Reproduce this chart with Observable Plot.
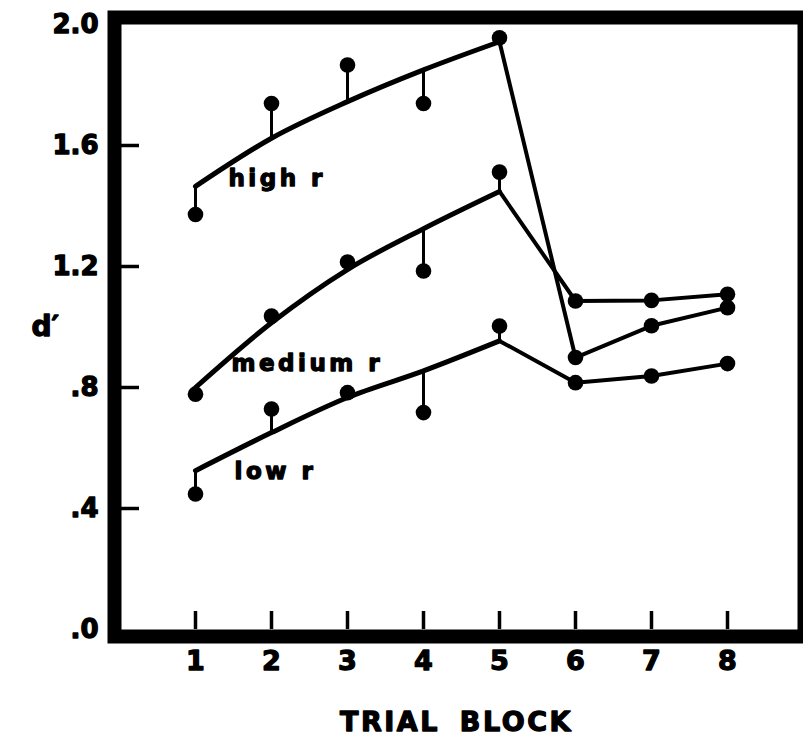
<!DOCTYPE html>
<html>
<head>
<meta charset="utf-8">
<script src="https://cdn.jsdelivr.net/npm/d3@7"></script>
<script src="https://cdn.jsdelivr.net/npm/@observablehq/plot@0.6"></script>
<style>
  html, body { margin: 0; padding: 0; background: #fff; }
</style>
</head>
<body>
<div id="chart"></div>
<script>
// ---- data ----
const blocks = [1, 2, 3, 4, 5, 6, 7, 8];
const fitBlocks = [1, 2, 3, 4, 5];
const seriesNames = ["high r", "medium r", "low r"];

// observed d' per trial block
const highObs   = [1.372, 1.739, 1.866, 1.739, 1.956, 0.899, 1.004, 1.064];
const mediumObs = [0.778, 1.036, 1.215, 1.185, 1.512, 1.086, 1.088, 1.108];
const lowObs    = [0.448, 0.729, 0.783, 0.717, 1.003, 0.816, 0.838, 0.879];

// fitted curve values for blocks 1-5
const highFit   = [1.465, 1.624, 1.745, 1.850, 1.943];
const mediumFit = [0.800, 1.014, 1.190, 1.325, 1.448];
const lowFit    = [0.525, 0.651, 0.767, 0.855, 0.954];

const yTicks = [0, 0.4, 0.8, 1.2, 1.6, 2.0];
const yTickLabels = [".0", ".4", ".8", "1.2", "1.6", "2.0"];
const xTicks = [1, 2, 3, 4, 5, 6, 7, 8];
const xTickLabels = ["1", "2", "3", "4", "5", "6", "7", "8"];
const xTitle = "TRIAL BLOCK";
const yTitle = "d\u2032";

// ---- tables built from the arrays ----
const obsArr = [highObs, mediumObs, lowObs];
const fitArr = [highFit, mediumFit, lowFit];

const obs = seriesNames.flatMap((s, k) => blocks.map((b, i) => ({series: s, block: b, d: obsArr[k][i]})));
const fit = seriesNames.flatMap((s, k) => fitBlocks.map((b, i) => ({series: s, block: b, d: fitArr[k][i]})));
const stems = seriesNames.flatMap((s, k) => fitBlocks.map((b, i) => ({series: s, block: b, o: obsArr[k][i], f: fitArr[k][i]})));
const tail = seriesNames.flatMap((s, k) => [
  {series: s, block: 5, d: fitArr[k][4]},
  ...blocks.slice(5).map((b, i) => ({series: s, block: b, d: obsArr[k][i + 5]}))
]);
const labelRows = seriesNames.map((s, k) => ({series: s, block: fitBlocks[0], d: fitArr[k][0]}));

// label offsets (pixels) relative to the start of each fitted curve
const labelOffsets = [[33, 0], [36, -17], [39, 8]];

const W = 803, H = 738, ML = 121, MR = 6, MT = 24, MB = 109;

const marks = [
  Plot.frame({stroke: "black", strokeWidth: 14, inset: -7}),
  Plot.tickY(yTicks.filter(d => d > 0 && d < 2), {y: d => d, stroke: "black", strokeWidth: 3.5, insetRight: (W - MR - ML) - 18}),
  Plot.tickX(xTicks, {x: d => d, stroke: "black", strokeWidth: 3.5, insetTop: (H - MB - MT) - 18}),
  Plot.axisY({ticks: yTicks, tickFormat: (d) => yTickLabels[yTicks.indexOf(d)], tickSize: 0, tickPadding: 23, fontSize: 26, fontWeight: "bold", label: null}),
  Plot.axisX({ticks: xTicks, tickFormat: (d) => xTickLabels[xTicks.indexOf(d)], tickSize: 0, tickPadding: 21, fontSize: 27, fontWeight: "bold", label: null}),
  Plot.text([xTitle], {frameAnchor: "bottom", dy: 101, dx: -3, lineAnchor: "bottom", fontSize: 27, fontWeight: "bold"}),
  Plot.text([yTitle], {frameAnchor: "left", dx: -90, fontSize: 28, fontWeight: "bold"}),
  Plot.line(fit, {x: "block", y: "d", z: "series", curve: "monotone-x", stroke: "black", strokeWidth: 5}),
  Plot.line(tail, {x: "block", y: "d", z: "series", stroke: "black", strokeWidth: 4}),
  Plot.ruleX(stems, {x: "block", y1: "o", y2: "f", stroke: "black", strokeWidth: 3}),
  Plot.dot(obs, {x: "block", y: "d", r: 7.8, fill: "black", stroke: "none"}),
  ...labelRows.map((row, k) => Plot.text([row], {
    x: "block", y: "d", text: "series", textAnchor: "start", lineAnchor: "bottom",
    dx: labelOffsets[k][0], dy: labelOffsets[k][1], fontSize: 23, fontWeight: "bold"
  }))
];

const chart = Plot.plot({
  width: W, height: H,
  marginLeft: ML, marginRight: MR, marginTop: MT, marginBottom: MB,
  x: {domain: [1, 8], range: [195, 727]},
  y: {domain: [0, 2]},
  style: {fontFamily: "DejaVu Sans", background: "white", color: "black", overflow: "hidden"},
  marks
});

// heavier lettering like the original figure
chart.querySelectorAll("text").forEach(t => {
  const s = t.textContent;
  t.setAttribute("stroke", "black");
  t.setAttribute("stroke-width", "1.3");
  t.setAttribute("stroke-linejoin", "round");
  if (s === xTitle) { t.setAttribute("letter-spacing", "2.5"); t.setAttribute("word-spacing", "8"); }
  else if (seriesNames.includes(s)) { t.setAttribute("letter-spacing", "3.5"); }
});

document.getElementById("chart").appendChild(chart);
</script>
</body>
</html>
